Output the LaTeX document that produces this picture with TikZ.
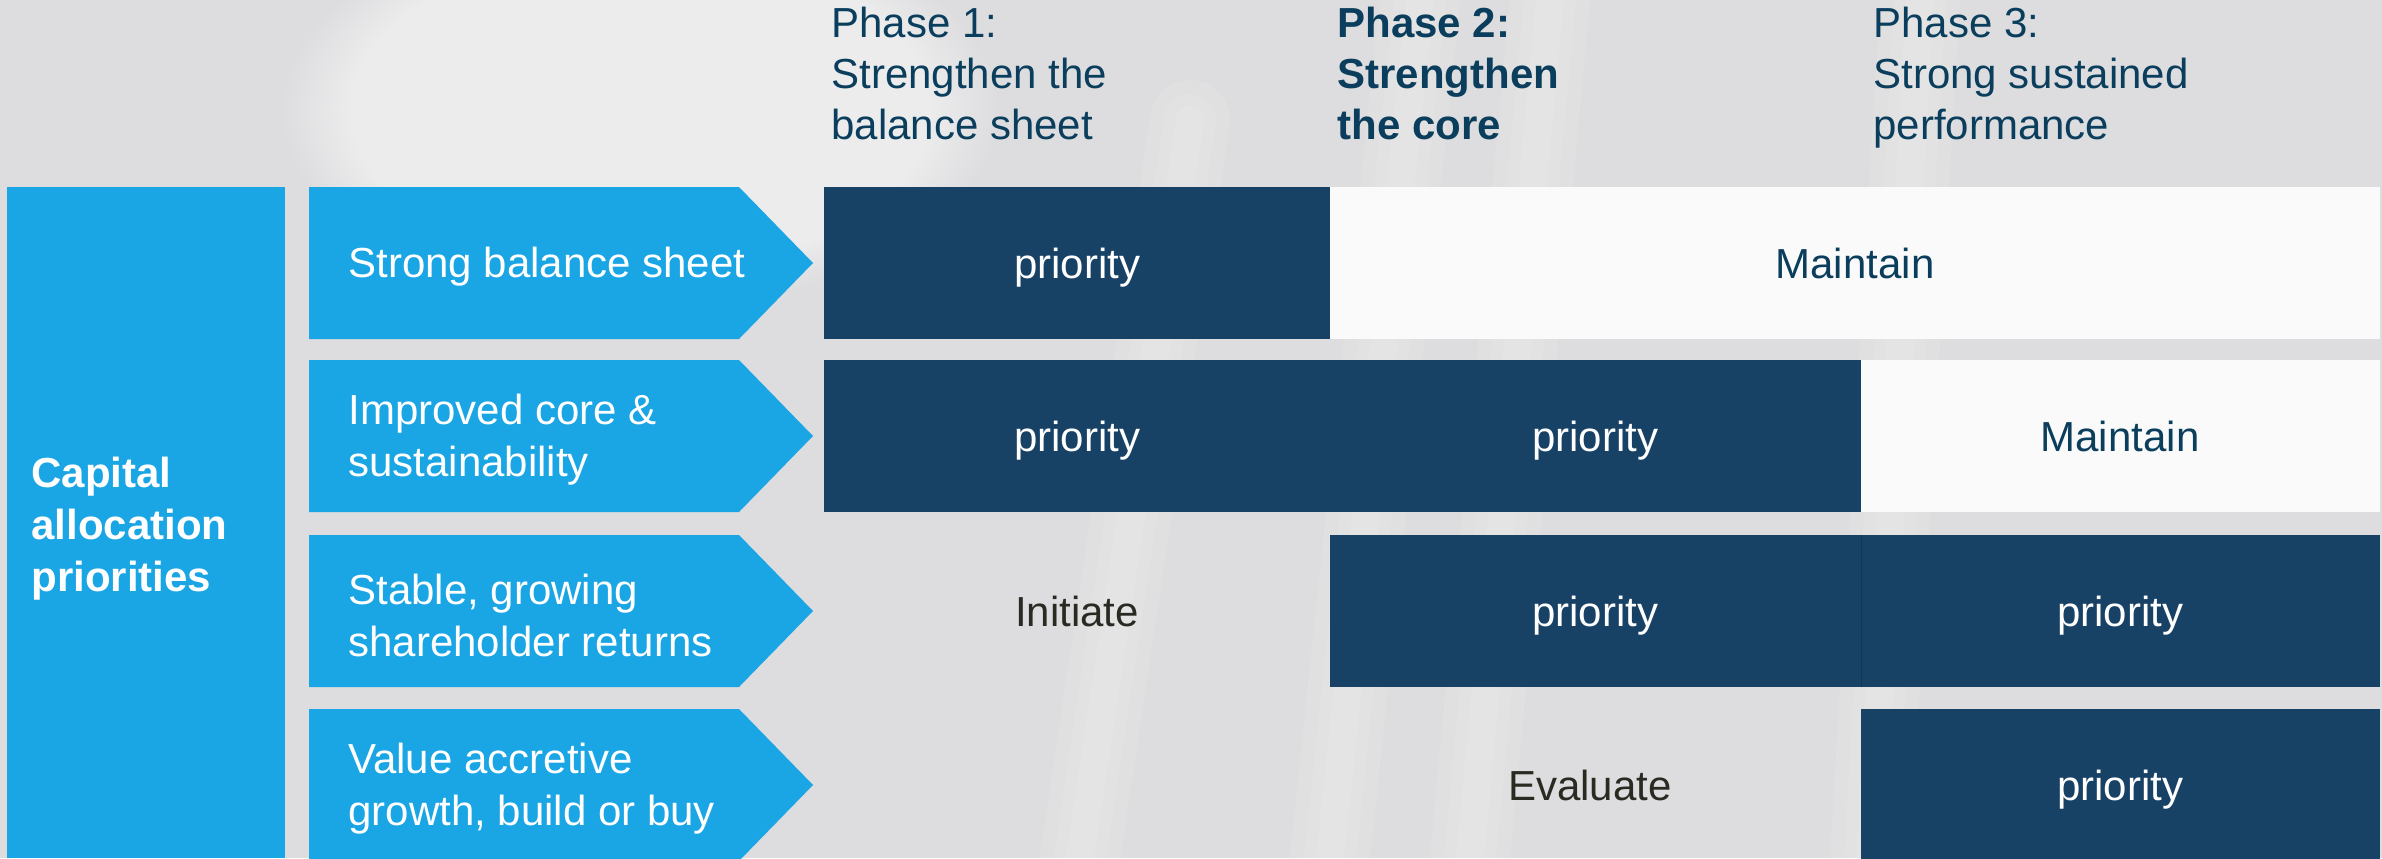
\documentclass[tikz,border=0pt]{standalone}
\usepackage{fontspec}
\setmainfont{Liberation Sans}
\usetikzlibrary{fadings}

\definecolor{skyblue}{RGB}{26,165,229}
\definecolor{navy}{RGB}{24,65,102}
\definecolor{headteal}{RGB}{10,62,92}
\definecolor{paper}{RGB}{250,250,250}
\definecolor{bggray}{RGB}{221,221,223}
\definecolor{darktext}{RGB}{42,42,34}

\tikzset{
  txt/.style={inner sep=0pt, font=\fontsize{21}{26}\selectfont},
  headtxt/.style={txt, anchor=north west, align=left, text=headteal,
    font=\fontsize{21}{25.5}\selectfont},
  rowtxt/.style={txt, anchor=west, align=left, text=white},
  celltxt/.style={txt, anchor=base},
  oncell/.style={celltxt, text=white},
  offcell/.style={celltxt, text=headteal},
  bare/.style={celltxt, text=darktext},
  streak/.style={white, line cap=round, opacity=0.09},
}

\begin{document}
\begin{tikzpicture}[x=0.5pt, y=-0.5pt]
\useasboundingbox (0,0) rectangle (2382,858);

% backdrop: soft grey with a few light streaks
\fill[bggray] (0,0) rectangle (2382,858);
\fill[white, opacity=0.45, path fading=circle with fuzzy edge 20 percent]
  (640,110) ellipse [x radius=360, y radius=200];
\foreach \w in {40,26,14} {
  \draw[streak, line width=\w] (1420,0) -- (1330,858);
  \draw[streak, line width=\w] (1920,0) -- (1870,858);
  \draw[streak, line width=\w] (1190,120) -- (1080,858);
  \draw[streak, line width=\w] (1550,0) -- (1470,858);
}

% left column
\fill[skyblue] (7,187) rectangle (285,858);
\node[rowtxt, font=\bfseries\fontsize{21}{26}\selectfont] (cap) at (31,529)
  {Capital\\allocation\\priorities};

% chevrons for the four priorities
\foreach \t in {187,360,535,709} {
  \fill[skyblue] (309,\t) -- (739,\t) -- (813,\t+76) -- (739,\t+152)
    -- (309,\t+152) -- cycle;
}
\node[rowtxt] (p1) at (348,267) {Strong balance sheet};
\node[rowtxt] (p2) at (348,440) {Improved core \&\\sustainability};
\node[rowtxt] (p3) at (348,615) {Stable, growing\\shareholder returns};
\node[rowtxt] (p4) at (348,789) {Value accretive\\growth, build or buy};

% phase headings
\node[headtxt] (h1) at (831,7) {Phase 1:\\Strengthen the\\balance sheet};
\node[headtxt, font=\bfseries\fontsize{21}{25.5}\selectfont] (h2) at (1337,7)
  {Phase 2:\\Strengthen\\the core};
\node[headtxt] (h3) at (1873,7) {Phase 3:\\Strong sustained\\performance};

% row 1
\fill[navy] (824,187) rectangle (1330,339);
\fill[paper] (1330,187) rectangle (2380,339);
\node[oncell] (c11) at (1077,278) {priority};
\node[offcell] (c12) at (1855,278) {Maintain};

% row 2
\fill[navy] (824,360) rectangle (1861,512);
\fill[paper] (1861,360) rectangle (2380,512);
\node[oncell] (c21) at (1077,451) {priority};
\node[oncell] (c22) at (1595,451) {priority};
\node[offcell] (c23) at (2120,451) {Maintain};

% row 3
\fill[navy] (1330,535) rectangle (2380,687);
\draw[navy!80!black, line width=0.5] (1861,535) -- (1861,687);
\node[bare] (c31) at (1077,626) {Initiate};
\node[oncell] (c32) at (1595,626) {priority};
\node[oncell] (c33) at (2120,626) {priority};

% row 4
\fill[navy] (1861,709) rectangle (2380,861);
\node[bare] (c41) at (1590,800) {Evaluate};
\node[oncell] (c42) at (2120,800) {priority};
\end{tikzpicture}
\end{document}
